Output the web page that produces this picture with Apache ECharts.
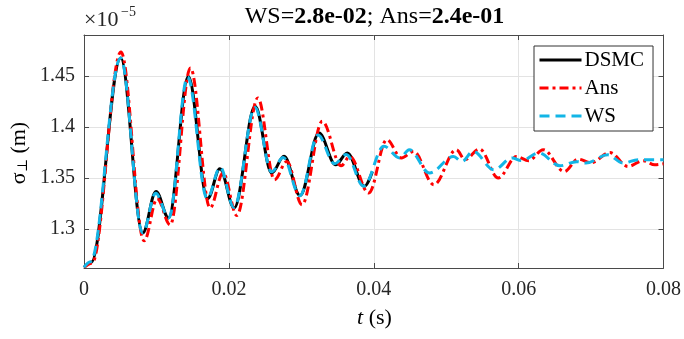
<!DOCTYPE html>
<html>
<head>
<meta charset="utf-8">
<script src="https://cdn.jsdelivr.net/npm/echarts@6/dist/echarts.min.js"></script>
<style>
  html, body { margin: 0; padding: 0; background: #fff; }
  #chart { width: 684px; height: 339px; }
</style>
</head>
<body>
<div id="chart"></div>
<script>
// Transverse beam size sigma_perp (units of 1e-5 m) versus time t (s)
const wsError = '2.8e-02';
const ansError = '2.4e-01';

// DSMC reference run (turning points of the trace)
const dsmcT = [0, 0.0010, 0.00507, 0.0081, 0.00994, 0.01168, 0.0144, 0.01706, 0.01876, 0.02073, 0.02362,
               0.02592, 0.02762, 0.02982, 0.03244, 0.03474, 0.03634, 0.03873, 0.0398];
const dsmcV = [1.2624, 1.2675, 1.4676, 1.2961, 1.3368, 1.3108, 1.4495, 1.3297, 1.359, 1.3206, 1.4202,
               1.3549, 1.3712, 1.3327, 1.394, 1.363, 1.3745, 1.3418, 1.356];

// Ans model
const ansT = [0, 0.0011, 0.0051, 0.0083, 0.0101, 0.0119, 0.0147, 0.0174, 0.0192, 0.0211, 0.0240,
              0.0263, 0.0280, 0.0301, 0.0329, 0.0355, 0.0367, 0.0393, 0.0418, 0.0438, 0.0455,
              0.0483, 0.0514, 0.0526, 0.0546, 0.0572, 0.0597, 0.0614, 0.0634, 0.0663, 0.0682,
              0.0700, 0.0726, 0.0751, 0.0772, 0.0788, 0.08];
const ansV = [1.2624, 1.2665, 1.4735, 1.2885, 1.3297, 1.304, 1.4578, 1.3206, 1.355, 1.3133, 1.4284,
              1.3483, 1.3662, 1.3238, 1.4055, 1.362, 1.371, 1.3353, 1.3875, 1.3696, 1.376,
              1.3434, 1.3777, 1.368, 1.3784, 1.350, 1.371, 1.367, 1.3777, 1.3563, 1.3685,
              1.365, 1.3749, 1.3613, 1.367, 1.3629, 1.364];

// WS model
const wsT = [0, 0.0009, 0.00507, 0.0081, 0.0099, 0.0117, 0.0143, 0.0170, 0.0188, 0.0207, 0.0236,
             0.0259, 0.0275, 0.0298, 0.0323, 0.0346, 0.0362, 0.0386, 0.0414, 0.0436, 0.0449,
             0.0477, 0.0510, 0.0522, 0.0537, 0.0566, 0.0591, 0.0604, 0.0628, 0.0657, 0.0680,
             0.0693, 0.0723, 0.0744, 0.0765, 0.08];
const wsV = [1.2624, 1.2680, 1.4676, 1.2961, 1.335, 1.311, 1.449, 1.330, 1.3604, 1.321, 1.419,
             1.356, 1.370, 1.3327, 1.392, 1.364, 1.373, 1.342, 1.381, 1.3696, 1.3777,
             1.3549, 1.371, 1.3662, 1.376, 1.358, 1.3696, 1.367, 1.3745, 1.362, 1.366,
             1.3646, 1.3727, 1.3646, 1.3678, 1.3678];

const xTicks = [0, 0.02, 0.04, 0.06, 0.08];
const yTicks = [1.3, 1.35, 1.4, 1.45];
const yMin = 1.2618, yMax = 1.4901;

const FONT = '"Liberation Serif", "DejaVu Serif", serif';
const AXIS_COLOR = '#4a4a4a';
const GRID_COLOR = '#e3e3e3';

const pairs = (t, v) => t.map((x, i) => [x, v[i]]);

const chart = echarts.init(document.getElementById('chart'), null, { renderer: 'canvas' });

const gridBox = { left: 84, right: 19, top: 35, bottom: 71 };
const plotCx = 84 + (684 - 84 - 19) / 2;

const baseX = {
  type: 'value', min: xTicks[0], max: xTicks[xTicks.length - 1], interval: 0.02,
  axisLine: { show: true, onZero: false, lineStyle: { color: AXIS_COLOR, width: 1 } },
  axisTick: { show: true, inside: true, length: 5, lineStyle: { color: AXIS_COLOR } },
};
const baseY = {
  type: 'value', min: yMin, max: yMax,
  axisLine: { show: true, onZero: false, lineStyle: { color: AXIS_COLOR, width: 1 } },
  axisTick: { show: true, inside: true, length: 5, customValues: yTicks, lineStyle: { color: AXIS_COLOR } },
};

const lineSeries = (name, t, v, color, type, z) => ({
  name, type: 'line', data: pairs(t, v), xAxisIndex: 0, yAxisIndex: 0,
  symbol: 'none', smooth: 0.36, smoothMonotone: 'x', z,
  lineStyle: { color, width: 3, type, cap: 'butt', join: 'round' },
  itemStyle: { color },
  emphasis: { disabled: true }, animation: false
});

chart.setOption({
  animation: false,
  grid: gridBox,
  xAxis: [
    Object.assign({}, baseX, {
      position: 'bottom',
      splitLine: { show: true, lineStyle: { color: GRID_COLOR, width: 1 } },
      axisLabel: { show: true, margin: 12, fontFamily: FONT, fontSize: 20, color: '#262626',
                   formatter: v => String(v) }
    }),
    Object.assign({}, baseX, {
      position: 'top', splitLine: { show: false }, axisLabel: { show: false }
    })
  ],
  yAxis: [
    Object.assign({}, baseY, {
      position: 'left',
      splitLine: { show: true, lineStyle: { color: GRID_COLOR, width: 1 } },
      axisLabel: { show: true, margin: 9, customValues: yTicks, fontFamily: FONT, fontSize: 20,
                   color: '#262626', formatter: v => String(v) }
    }),
    Object.assign({}, baseY, {
      position: 'right', splitLine: { show: false }, axisLabel: { show: false }
    })
  ],
  legend: {
    orient: 'vertical', left: 534, top: 46,
    padding: [3, 9, 4, 4], itemGap: 6, itemWidth: 42, itemHeight: 14,
    backgroundColor: '#fff', borderColor: '#333', borderWidth: 1, borderRadius: 0,
    textStyle: { fontFamily: FONT, fontSize: 21, color: '#000', lineHeight: 22, padding: [0, 0, 0, -2] },
    lineStyle: { width: 3 },
    itemStyle: { opacity: 0 },
    data: ['DSMC', 'Ans', 'WS'],
    selectedMode: false
  },
  series: [
    lineSeries('DSMC', dsmcT, dsmcV, '#000000', 'solid', 2),
    lineSeries('Ans', ansT, ansV, '#ff0000', [9, 4, 3, 4], 3),
    lineSeries('WS', wsT, wsV, '#12b5e6', [10, 6], 4)
  ],
  graphic: [
    {
      type: 'text', x: plotCx, y: 17,
      style: {
        text: '{n|WS=}{b|' + wsError + '}{n|; Ans=}{b|' + ansError + '}',
        align: 'center', verticalAlign: 'middle',
        rich: {
          n: { fontFamily: FONT, fontSize: 24, color: '#000' },
          b: { fontFamily: FONT, fontSize: 24, fontWeight: 'bold', color: '#000' }
        }
      }
    },
    {
      type: 'text', x: 84, y: 20,
      style: { text: '×10', fontFamily: FONT, fontSize: 22, fill: '#262626', align: 'left', verticalAlign: 'middle' }
    },
    {
      type: 'text', x: 121, y: 12,
      style: { text: '−5', fontFamily: FONT, fontSize: 14, fill: '#262626', align: 'left', verticalAlign: 'middle' }
    },
    {
      type: 'text', x: 19, y: 153, rotation: Math.PI / 2,
      style: {
        text: '{a|σ}{s|⊥}{a| (m)}', align: 'center', verticalAlign: 'middle',
        rich: {
          a: { fontFamily: FONT, fontSize: 22, color: '#262626' },
          s: { fontFamily: FONT, fontSize: 14, color: '#262626', padding: [8, 0, 0, 0] }
        }
      }
    },
    {
      type: 'text', x: plotCx, y: 318,
      style: {
        text: '{i|t}{n| (s)}', align: 'center', verticalAlign: 'middle',
        rich: {
          i: { fontFamily: FONT, fontSize: 22, fontStyle: 'italic', color: '#262626' },
          n: { fontFamily: FONT, fontSize: 22, color: '#262626' }
        }
      }
    }
  ]
});
</script>
</body>
</html>
